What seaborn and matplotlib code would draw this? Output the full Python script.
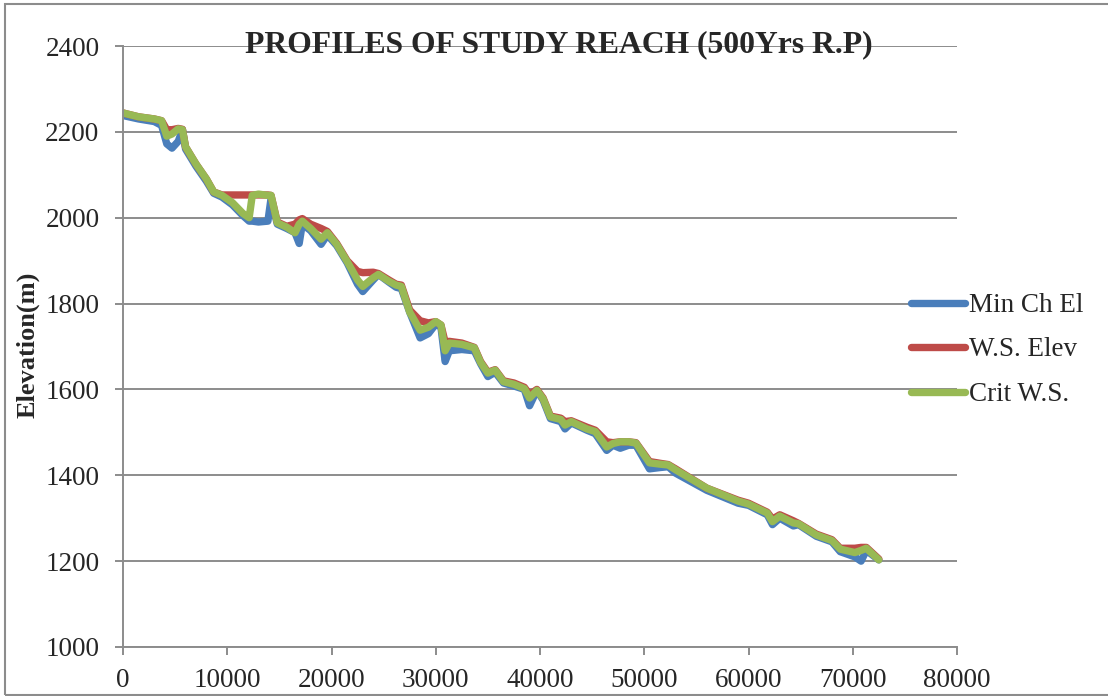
import matplotlib
matplotlib.use("Agg")
import matplotlib.pyplot as plt
import seaborn as sns
import pandas as pd
from matplotlib.patches import Rectangle
from matplotlib.lines import Line2D

stations = [0, 1500, 3000, 3700, 4200, 4700, 5300, 5700, 6000, 7000, 8000, 8700, 9500,
            10500, 11500, 12100, 12400, 13000, 13900, 14200, 14800, 15700, 16500, 16900,
            17200, 18000, 19000, 19600, 20500, 21500, 22500, 23000, 24000, 24500, 25500,
            26200, 26700, 27500, 28500, 29300, 30000, 30500, 30900, 31300, 32500, 33700,
            34300, 35000, 35700, 36500, 37500, 38500, 39000, 39700, 40300, 41000, 42000,
            42400, 43000, 44500, 45300, 46400, 47000, 47700, 48500, 49200, 50500, 51500,
            52300, 53000, 56000, 59000, 60000, 61800, 62300, 63000, 64300, 64800, 66500,
            68000, 68800, 70200, 70800, 71300, 72500]

min_ch_el = [2238, 2230, 2224, 2215, 2172, 2162, 2178, 2205, 2160, 2120, 2085, 2057, 2048,
             2030, 2005, 1992, 1992, 1990, 1992, 2045, 1985, 1975, 1965, 1940,
             1985, 1970, 1938, 1960, 1935, 1895, 1845, 1828, 1855, 1868, 1850,
             1838, 1835, 1780, 1720, 1730, 1752, 1745, 1665, 1690, 1693, 1690,
             1660, 1630, 1640, 1615, 1608, 1600, 1562, 1598, 1575, 1532, 1525,
             1508, 1522, 1505, 1497, 1458, 1470, 1463, 1470, 1470, 1415, 1418,
             1420, 1405, 1365, 1335, 1330, 1308, 1285, 1300, 1282, 1285, 1258,
             1245, 1222, 1210, 1200, 1225, 1203]

ws_elev = [2244, 2235, 2230, 2226, 2205, 2205, 2208, 2206, 2165, 2125, 2090, 2060, 2053,
           2053, 2053, 2053, 2053, 2053, 2053, 2052, 1990, 1980, 1985, 1995,
           1998, 1985, 1975, 1968, 1940, 1900, 1875, 1872, 1873, 1870, 1855,
           1845, 1843, 1785, 1760, 1755, 1758, 1750, 1710, 1712, 1708, 1698,
           1665, 1640, 1646, 1620, 1615, 1605, 1588, 1600, 1580, 1538, 1533,
           1525, 1527, 1512, 1505, 1478, 1476, 1478, 1478, 1476, 1432, 1428,
           1425, 1415, 1370, 1342, 1335, 1314, 1298, 1308, 1294, 1288, 1263,
           1250, 1230, 1230, 1232, 1232, 1205]

crit_ws = [2244, 2235, 2230, 2226, 2190, 2195, 2207, 2205, 2165, 2125, 2090, 2060, 2052,
           2035, 2010, 2000, 2052, 2055, 2052, 2052, 1988, 1978, 1965, 1985,
           1992, 1975, 1950, 1965, 1938, 1898, 1855, 1840, 1860, 1868, 1852,
           1843, 1840, 1780, 1738, 1745, 1758, 1750, 1690, 1708, 1705, 1697,
           1663, 1638, 1645, 1618, 1612, 1602, 1580, 1598, 1578, 1536, 1530,
           1517, 1525, 1508, 1502, 1466, 1474, 1478, 1478, 1475, 1429, 1426,
           1424, 1413, 1370, 1340, 1333, 1312, 1292, 1305, 1289, 1287, 1261,
           1248, 1228, 1220, 1225, 1230, 1203]

series_names = ["Min Ch El", "W.S. Elev", "Crit W.S."]
colors = ["#4A7EBB", "#BE4B48", "#98B954"]
x_ticks = [0, 10000, 20000, 30000, 40000, 50000, 60000, 70000, 80000]
y_ticks = [1000, 1200, 1400, 1600, 1800, 2000, 2200, 2400]

df = pd.concat([
    pd.DataFrame({"Station": stations, "Elevation": vals, "Series": name})
    for name, vals in zip(series_names, [min_ch_el, ws_elev, crit_ws])
], ignore_index=True)

sns.set_style("white")
plt.rcParams["font.family"] = ["Liberation Serif", "DejaVu Serif"]

fig = plt.figure(figsize=(11.08, 6.96), dpi=100)
ax = fig.add_axes([123/1108, 1-647/696, (957-123)/1108, (647-46)/696])

sns.lineplot(data=df, x="Station", y="Elevation", hue="Series", hue_order=series_names,
             palette=colors, linewidth=5.3, ax=ax, sort=False, legend=False,
             solid_joinstyle="round", solid_capstyle="round")

ax.set_xlim(0, 80000)
ax.set_ylim(1000, 2400)
ax.set_xticks(x_ticks)
ax.set_yticks(y_ticks)
ax.set_xticklabels([str(t) for t in x_ticks], fontsize=19.5)
ax.set_yticklabels([str(t) for t in y_ticks], fontsize=19.5)
ax.set_xlabel("")
ax.set_ylabel("")
fig.text(28/1108, 1-345/696, "Elevation(m)", rotation=90, ha="center", va="center",
         fontsize=19, fontweight="bold")
ax.yaxis.grid(True, color="#8C8C8C", linewidth=1.4)
ax.xaxis.grid(False)
ax.set_axisbelow(True)
for s in ["top", "right"]:
    ax.spines[s].set_visible(False)
for s in ["left", "bottom"]:
    ax.spines[s].set_color("#8C8C8C")
    ax.spines[s].set_linewidth(1.4)
ax.tick_params(axis="y", which="major", length=6, color="#8C8C8C", width=1.4,
               direction="out", left=True, pad=11)
ax.tick_params(axis="x", which="major", length=6, color="#8C8C8C", width=1.4,
               direction="out", bottom=True, pad=9)

fig.text(559/1108, 1-45/696, "PROFILES OF STUDY REACH (500Yrs R.P)", ha="center", va="center",
         fontsize=22.8, fontweight="bold")

handles = [Line2D([0], [0], color=c, linewidth=5.3, solid_capstyle="round") for c in colors]
fig.legend(handles, series_names, loc="center left", bbox_to_anchor=(911/1108, 1-350/696),
           frameon=False, fontsize=19.5, handlelength=2.0, handletextpad=0.15, labelspacing=0.72,
           borderaxespad=0, borderpad=0)

fig.patches.append(Rectangle((5/1108, 1/696), 1.2, 691/696, transform=fig.transFigure, fill=False,
                             edgecolor="#8C8C8C", linewidth=1.5))

fig.savefig("out.png", dpi=100)
